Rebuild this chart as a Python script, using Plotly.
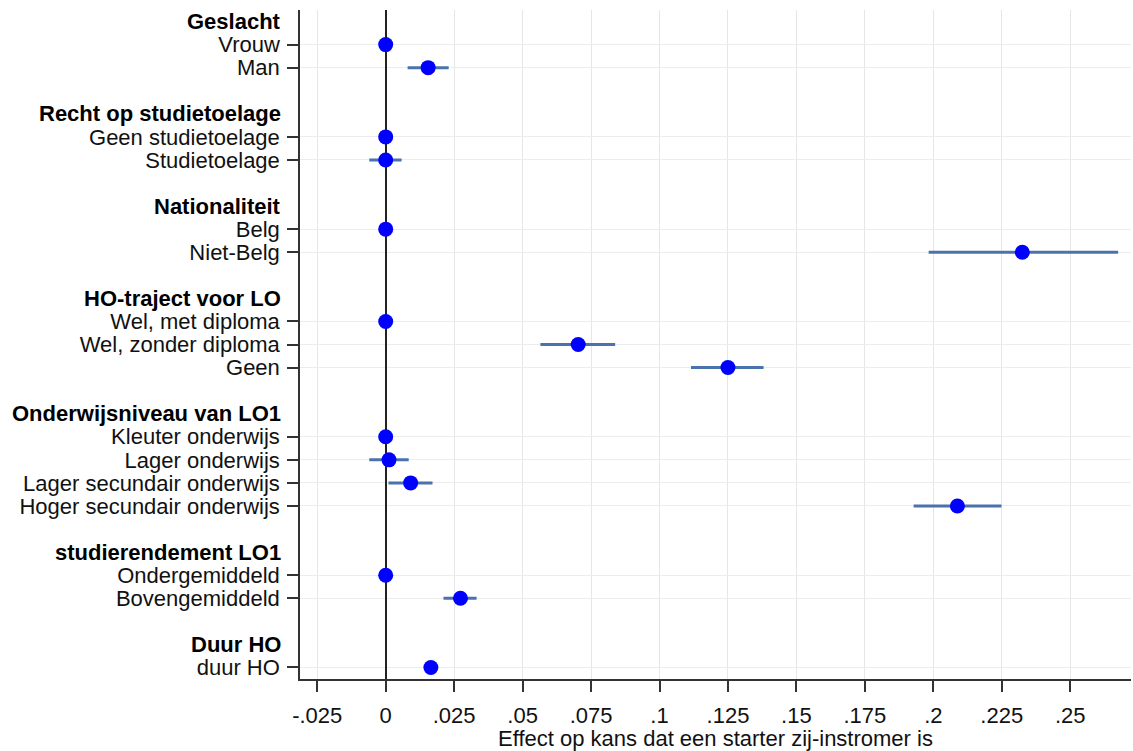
import plotly.graph_objects as go

# Rows (top to bottom). Headers are shown in bold, empty rows are spacers.
row_labels = [
    "Geslacht", "Vrouw", "Man", "",
    "Recht op studietoelage", "Geen studietoelage", "Studietoelage", "",
    "Nationaliteit", "Belg", "Niet-Belg", "",
    "HO-traject voor LO", "Wel, met diploma", "Wel, zonder diploma", "Geen", "",
    "Onderwijsniveau van LO1", "Kleuter onderwijs", "Lager onderwijs",
    "Lager secundair onderwijs", "Hoger secundair onderwijs", "",
    "studierendement LO1", "Ondergemiddeld", "Bovengemiddeld", "",
    "Duur HO", "duur HO",
]
is_header = [
    True, False, False, None,
    True, False, False, None,
    True, False, False, None,
    True, False, False, False, None,
    True, False, False, False, False, None,
    True, False, False, None,
    True, False,
]
estimate = [
    None, 0.0, 0.0155, None,
    None, 0.0, 0.0, None,
    None, 0.0, 0.2325, None,
    None, 0.0, 0.0703, 0.125, None,
    None, 0.0, 0.0012, 0.0091, 0.2088, None,
    None, 0.0, 0.0273, None,
    None, 0.0165,
]
ci_low = [
    None, 0.0, 0.0080, None,
    None, 0.0, -0.0060, None,
    None, 0.0, 0.1983, None,
    None, 0.0, 0.0565, 0.1115, None,
    None, 0.0, -0.0060, 0.0010, 0.1928, None,
    None, 0.0, 0.0211, None,
    None, 0.0160,
]
ci_high = [
    None, 0.0, 0.0230, None,
    None, 0.0, 0.0058, None,
    None, 0.0, 0.2675, None,
    None, 0.0, 0.0838, 0.1380, None,
    None, 0.0, 0.0084, 0.0171, 0.2249, None,
    None, 0.0, 0.0332, None,
    None, 0.0170,
]
x_tickvals = [-0.025, 0, 0.025, 0.05, 0.075, 0.1, 0.125, 0.15, 0.175, 0.2, 0.225, 0.25]
x_ticktext = ["-.025", "0", ".025", ".05", ".075", ".1", ".125", ".15", ".175", ".2", ".225", ".25"]
x_title = "Effect op kans dat een starter zij-instromer is"

FONT = "Liberation Sans, Arial, sans-serif"
FS = 22

ys, xs, eplus, eminus = [], [], [], []
for i, e in enumerate(estimate):
    if e is None:
        continue
    ys.append(i)
    xs.append(e)
    eplus.append(ci_high[i] - e)
    eminus.append(e - ci_low[i])

fig = go.Figure()
fig.add_trace(go.Scatter(
    x=xs, y=ys, mode="markers",
    marker=dict(size=15, color="#0000ff"),
    error_x=dict(type="data", symmetric=False, array=eplus, arrayminus=eminus,
                 color="#4a72ab", thickness=3, width=0),
    showlegend=False, hoverinfo="x+y",
))

item_vals = [i for i, h in enumerate(is_header) if h is False]
item_text = [row_labels[i] for i in item_vals]

for i, h in enumerate(is_header):
    if h is True:
        fig.add_annotation(
            x=0, xref="paper", y=i, yref="y",
            text="<b>" + row_labels[i] + "</b>", showarrow=False,
            xanchor="right", yanchor="middle", xshift=-17,
            font=dict(family=FONT, size=FS, color="#000000"),
        )

fig.update_layout(
    width=1133, height=751,
    margin=dict(l=300, r=2, t=10, b=72),
    paper_bgcolor="white", plot_bgcolor="white",
    font=dict(family=FONT, size=FS, color="#111111"),
)
fig.update_xaxes(
    range=[-0.0313, 0.2722],
    tickvals=x_tickvals, ticktext=x_ticktext,
    ticks="outside", ticklen=11, tickwidth=1.5, tickcolor="#333333",
    showline=True, linecolor="#333333", linewidth=1.5,
    showgrid=True, gridcolor="#e6e6e6", gridwidth=1,
    zeroline=True, zerolinecolor="#222222", zerolinewidth=2,
    title=dict(text=x_title, font=dict(family=FONT, size=FS, color="#111111"), standoff=2),
    tickfont=dict(family=FONT, size=FS, color="#111111"),
    ticklabelstandoff=5,
    automargin=False,
)
fig.update_yaxes(
    range=[28.5, -0.5],
    tickvals=item_vals, ticktext=item_text,
    ticks="outside", ticklen=11, tickwidth=1.5, tickcolor="#333333",
    showline=True, linecolor="#333333", linewidth=1.5,
    showgrid=True, gridcolor="#ececec", gridwidth=1,
    zeroline=False,
    tickfont=dict(family=FONT, size=FS, color="#111111"),
    ticklabelstandoff=3,
    automargin=False,
)

fig.write_html("out.html")
